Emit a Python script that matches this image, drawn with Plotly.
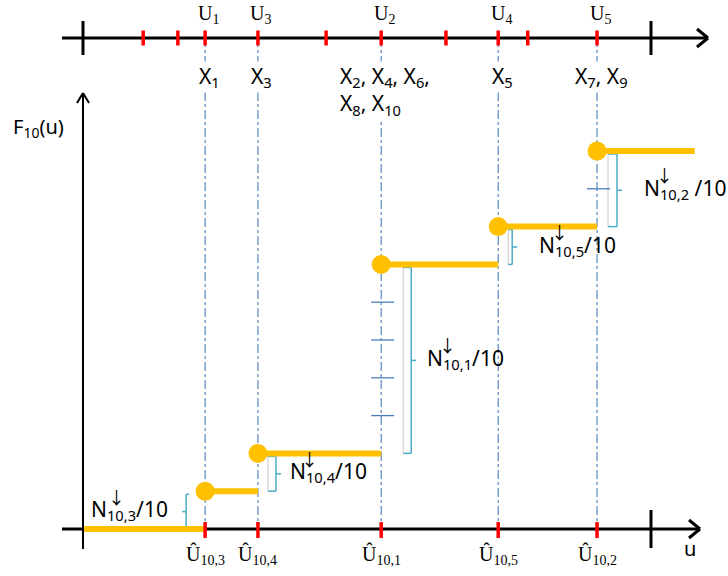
import plotly.graph_objects as go

# ---------------- data ----------------
N_OBS = 10
hat_u = [0.215, 0.308, 0.525, 0.731, 0.905]          # sorted Û_{10,j} positions on u axis
hat_sub = ["10,3", "10,4", "10,1", "10,5", "10,2"]   # subscripts of Û / N
counts = [1, 1, 5, 1, 2]                             # N↓_{10,j}
grid_u = [0.106, 0.167, 0.215, 0.308, 0.428, 0.525, 0.639, 0.731, 0.783, 0.905]  # red marks on top line
top_names = ["U<sub>1</sub>", "U<sub>3</sub>", "U<sub>2</sub>", "U<sub>4</sub>", "U<sub>5</sub>"]
x_names = ["X<sub>1</sub>", "X<sub>3</sub>",
           "X<sub>2</sub>, X<sub>4</sub>, X<sub>6</sub>,<br>X<sub>8</sub>, X<sub>10</sub>",
           "X<sub>5</sub>", "X<sub>7</sub>, X<sub>9</sub>"]
n_sep = ["", "", "", "", " "]
u_end = 1.077

F = []
s = 0
for c in counts:
    s += c
    F.append(s / N_OBS)
F_prev = [0.0] + F[:-1]

# ---------------- geometry helpers ----------------
W, H = 728, 576
PXU, PXF = 568.0, 378.0
X0, Y0 = 83, 529
def du(p): return p / PXU
def dF(p): return p / PXF
x_range = [-X0 / PXU, (W - X0) / PXU]
y_range = [-(H - Y0) / PXF, Y0 / PXF]
TOP = dF(Y0 - 38)

ORANGE = "#FFC000"
DASHBLUE = "#4A7EBB"
BRACE = "#4BACC6"
GRAY = "#C8C8C8"
RED = "#FF0000"

fig = go.Figure()

def add_segs(segs, color, width, dash=None):
    xs, ys = [], []
    for (x0, y0), (x1, y1) in segs:
        xs += [x0, x1, None]
        ys += [y0, y1, None]
    fig.add_trace(go.Scatter(x=xs, y=ys, mode="lines", hoverinfo="skip",
                             line=dict(color=color, width=width, dash=dash),
                             showlegend=False))

# dash-dot verticals
add_segs([((u, TOP), (u, 0)) for u in hat_u], DASHBLUE, 1.1, "dashdot")

# braces
gray_off = [None, 10, 22, 10, 11]
blue_off = [-19, 18, 30, 14, 20]
gsegs, bsegs, tsegs = [], [], []
for i, u in enumerate(hat_u):
    lo, hi = F_prev[i], F[i] - dF(3)
    xb = u + du(blue_off[i])
    if i == 0:
        bsegs += [((xb, lo), (xb, hi)), ((xb, hi), (xb + du(3), hi)),
                  ((xb, lo), (xb + du(3), lo)),
                  ((xb, (lo + hi) / 2), (xb - du(4), (lo + hi) / 2))]
    else:
        xg = u + du(gray_off[i])
        gsegs.append(((xg, lo), (xg, hi)))
        bsegs += [((xb, lo), (xb, hi)), ((xg, hi), (xb, hi)), ((xg, lo), (xb, lo)),
                  ((xb, (lo + hi) / 2), (xb + du(5), (lo + hi) / 2))]
    for k in range(1, counts[i]):
        lev = F_prev[i] + k / N_OBS
        tsegs.append(((u - du(10), lev), (u + du(13), lev)))
add_segs(gsegs, GRAY, 1)
add_segs(bsegs, BRACE, 1.5)
add_segs(tsegs, DASHBLUE, 1.3)

# axes lines
add_segs([((-du(21), TOP), (du(625), TOP)),
          ((-du(21), 0), (du(617), 0))], "black", 3)

# orange steps
steps = [((0, 0), (hat_u[0], 0))]
for i, u in enumerate(hat_u):
    nxt = hat_u[i + 1] if i + 1 < len(hat_u) else u_end
    steps.append(((u, F[i]), (nxt, F[i])))
add_segs(steps, ORANGE, 6)
fig.add_trace(go.Scatter(x=hat_u, y=F, mode="markers", hoverinfo="skip", showlegend=False,
                         marker=dict(color=ORANGE, size=19, line=dict(width=0))))

# vertical axis
add_segs([((0, -dF(20)), (0, dF(Y0 - 93)))], "black", 2)

# red ticks
add_segs([((g, TOP - dF(7.5)), (g, TOP + dF(7.5))) for g in grid_u] +
         [((u, -dF(9)), (u, dF(7))) for u in hat_u], RED, 3.5)
# black ticks
add_segs([((0, TOP - dF(17)), (0, TOP + dF(17))),
          ((1, TOP - dF(17)), (1, TOP + dF(17))),
          ((1, -dF(19)), (1, dF(19)))], "black", 3)

# chevrons
tipx1 = du(625)
tipx2 = du(617)
tipy = dF(Y0 - 93)
add_segs([((tipx1 - du(11), TOP + dF(9)), (tipx1, TOP)), ((tipx1 - du(11), TOP - dF(9)), (tipx1, TOP)),
          ((tipx2 - du(11), dF(9)), (tipx2, 0)), ((tipx2 - du(11), -dF(9)), (tipx2, 0))], "black", 3)
add_segs([((-du(6), tipy - dF(10)), (0, tipy)), ((du(6), tipy - dF(10)), (0, tipy))], "black", 2)

# ---------------- annotations ----------------
SERIF = "Liberation Serif"
SANS = "Noto Sans"
ann = []
for u, t in zip(hat_u, top_names):
    ann.append(dict(x=u, y=TOP + dF(10), xanchor="center", yanchor="bottom", xshift=3,
                    text=t, font=dict(family=SERIF, size=20, color="black"), borderpad=0))
for u, t in zip(hat_u, x_names):
    ann.append(dict(x=u, y=TOP - dF(23), xanchor="center", yanchor="top", xshift=4, align="left",
                    text=t, font=dict(family=SANS, size=21, color="black"), bgcolor="white",
                    borderpad=0))
for u, s_ in zip(hat_u, hat_sub):
    ann.append(dict(x=u, y=-dF(11), xanchor="center", yanchor="top",
                    text="Û<sub>" + s_ + "</sub>", font=dict(family=SERIF, size=20, color="black")))

lab_off = [-35, 30, 44, 39, 45]
for i, u in enumerate(hat_u):
    mid = (F_prev[i] + F[i]) / 2
    txt = "N<sub>" + hat_sub[i] + "</sub>" + n_sep[i] + "/10"
    xa = u + du(lab_off[i])
    if i == 0:
        ann.append(dict(x=xa, y=mid, xanchor="right", yanchor="middle", text=txt,
                        font=dict(family=SANS, size=21, color="black")))
        ax = xa - du(54)
    else:
        ann.append(dict(x=xa, y=mid, xanchor="left", yanchor="middle", text=txt,
                        font=dict(family=SANS, size=21, color="black")))
        ax = xa + du(22)
    ann.append(dict(x=ax, y=mid + dF(14), xanchor="center", yanchor="middle", text="↓",
                    font=dict(family="Noto Sans CJK JP", size=17, color="black"), borderpad=0))

ann.append(dict(x=du(607), y=-dF(19), xanchor="center", yanchor="middle", text="u",
                font=dict(family=SANS, size=20, color="black")))
ann.append(dict(x=-du(45), y=dF(Y0 - 127), xanchor="center", yanchor="middle",
                text="F<sub>10</sub>(u)", font=dict(family=SANS, size=20, color="black")))

for a in ann:
    a.update(xref="x", yref="y", showarrow=False)

fig.update_layout(width=W, height=H, margin=dict(l=0, r=0, t=0, b=0),
                  paper_bgcolor="white", plot_bgcolor="white", annotations=ann,
                  xaxis=dict(range=x_range, visible=False, fixedrange=True),
                  yaxis=dict(range=y_range, visible=False, fixedrange=True),
                  showlegend=False)
fig.write_html("out.html")
